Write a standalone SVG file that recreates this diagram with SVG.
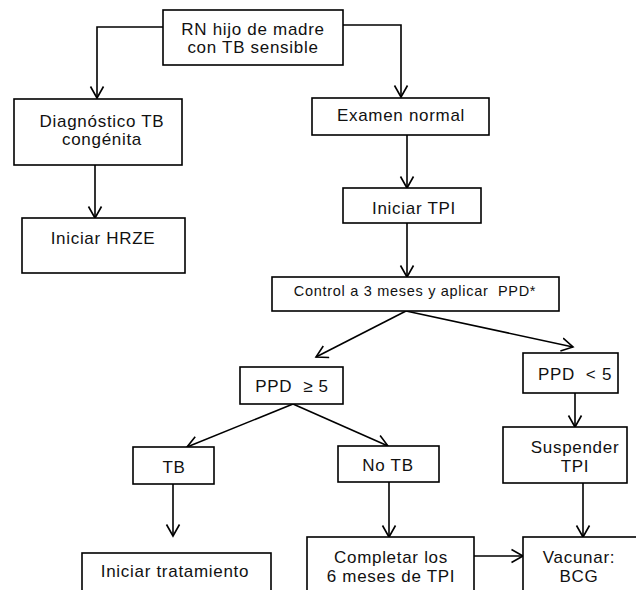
<svg xmlns="http://www.w3.org/2000/svg" width="636" height="590" viewBox="0 0 636 590">
<style>
.box{fill:#fff;stroke:#000;stroke-width:1.6}
.t{font-family:"Liberation Sans",Arial,sans-serif;font-size:17px;letter-spacing:0.7px;fill:#111;text-anchor:middle}
.s{font-size:14.5px;letter-spacing:0.7px}
.c{fill:none;stroke:#000;stroke-width:1.6}
</style>
<defs>
<marker id="a" markerUnits="userSpaceOnUse" markerWidth="16" markerHeight="16" refX="12" refY="7" orient="auto" viewBox="0 0 16 14">
<path d="M0.5,0.5 L12,7 L0.5,13.5" fill="none" stroke="#000" stroke-width="1.6"/>
</marker>
</defs>
<rect width="636" height="590" fill="#fff"/>
<g id="connectors">
<path class="c" d="M163,27 H97 V98" marker-end="url(#a)"/>
<path class="c" d="M343,25 H401 V97" marker-end="url(#a)"/>
<path class="c" d="M95,165 V218" marker-end="url(#a)"/>
<path class="c" d="M407,135 V188" marker-end="url(#a)"/>
<path class="c" d="M407,223 V277" marker-end="url(#a)"/>
<path class="c" d="M406,311 L316,357" marker-end="url(#a)"/>
<path class="c" d="M406,311 L573,347" marker-end="url(#a)"/>
<path class="c" d="M293,404 L187,447" marker-end="url(#a)"/>
<path class="c" d="M293,404 L388,446" marker-end="url(#a)"/>
<path class="c" d="M575,393 V427" marker-end="url(#a)"/>
<path class="c" d="M173,484 V536" marker-end="url(#a)"/>
<path class="c" d="M389,482 V537" marker-end="url(#a)"/>
<path class="c" d="M474,556 H523" marker-end="url(#a)"/>
<path class="c" d="M583,483 V537" marker-end="url(#a)"/>
</g>
<g id="n-rn"><rect class="box" x="163" y="10" width="180" height="55"/><text class="t" x="253" y="35">RN hijo de madre</text><text class="t" x="253" y="53">con TB sensible</text></g>
<g id="n-diag"><rect class="box" x="14" y="99" width="168" height="66"/><text class="t" x="102" y="127">Diagnóstico TB</text><text class="t" x="102" y="145">congénita</text></g>
<g id="n-hrze"><rect class="box" x="22" y="218" width="163" height="55"/><text class="t" x="103" y="244">Iniciar HRZE</text></g>
<g id="n-examen"><rect class="box" x="312" y="98" width="177" height="37"/><text class="t" x="401" y="121">Examen normal</text></g>
<g id="n-tpi"><rect class="box" x="343" y="188" width="138" height="35"/><text class="t" x="414" y="214">Iniciar TPI</text></g>
<g id="n-control"><rect class="box" x="272" y="277" width="287" height="34"/><text class="t s" x="415" y="296" xml:space="preserve">Control a 3 meses y aplicar  PPD*</text></g>
<g id="n-ppdge"><rect class="box" x="240" y="367" width="103" height="37"/><text class="t" x="292" y="392" xml:space="preserve">PPD  ≥ 5</text></g>
<g id="n-ppdlt"><rect class="box" x="523" y="353" width="95" height="40"/><text class="t" x="575" y="380" xml:space="preserve">PPD  &lt; 5</text></g>
<g id="n-tb"><rect class="box" x="133" y="447" width="81" height="37"/><text class="t" x="174" y="473">TB</text></g>
<g id="n-notb"><rect class="box" x="338" y="446" width="101" height="36"/><text class="t" x="388" y="471">No TB</text></g>
<g id="n-susp"><rect class="box" x="503" y="427" width="124" height="56"/><text class="t" x="575" y="453">Suspender</text><text class="t" x="575" y="472">TPI</text></g>
<g id="n-trat"><rect class="box" x="82" y="553" width="189" height="50"/><text class="t" x="175" y="577">Iniciar tratamiento</text></g>
<g id="n-compl"><rect class="box" x="307" y="537" width="167" height="66"/><text class="t" x="391" y="563">Completar los</text><text class="t" x="391" y="582">6 meses de TPI</text></g>
<g id="n-vac"><rect class="box" x="523" y="537" width="120" height="66"/><text class="t" x="579" y="563">Vacunar:</text><text class="t" x="579" y="582">BCG</text></g>
</svg>
